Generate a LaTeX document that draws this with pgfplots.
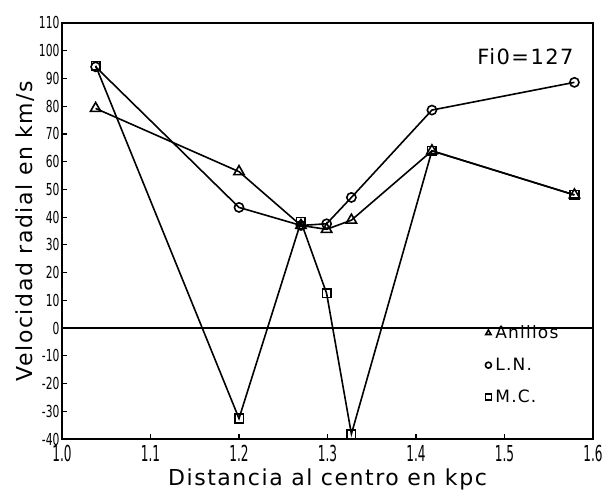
\documentclass[border=0pt]{standalone}
\usepackage{pgfplots}
\pgfplotsset{compat=1.18}
\usepackage{fontspec}
\setmainfont{DejaVu Sans}
\newfontfamily\ytickfont{DejaVu Sans}[FakeStretch=0.65]
\newfontfamily\xtickfont{DejaVu Sans}[FakeStretch=0.55]
\newfontfamily\labfont{DejaVu Sans}[LetterSpace=7]
\begin{document}
\begin{tikzpicture}[x=1pt,y=1pt]
\useasboundingbox (0,0) rectangle (605,492);
\begin{axis}[
  at={(62pt,53pt)}, anchor=south west,
  scale only axis, width=531pt, height=416pt,
  xmin=1.0, xmax=1.6, ymin=-40, ymax=110,
  xtick={1.0,1.1,...,1.6},
  xticklabels={1.0,1.1,1.2,1.3,1.4,1.5,1.6},
  ytick={-40,-30,...,110},
  tick align=inside, xtick pos=bottom, ytick pos=left,
  major tick length=5pt,
  axis line style={line width=1.4pt},
  tick style={line width=1.2pt, black},
  xticklabel style={font=\xtickfont\fontsize{22}{22}\selectfont, yshift=-3pt},
  yticklabel style={font=\ytickfont\fontsize{16.5}{16.5}\selectfont, xshift=1pt},
  /pgf/number format/assume math mode=true,
  xlabel={Distancia al centro en kpc},
  ylabel={Velocidad radial en km/s},
  xlabel style={font=\labfont\fontsize{22}{22}\selectfont, yshift=0pt},
  ylabel style={font=\labfont\fontsize{22}{22}\selectfont, yshift=-2pt},
  legend image code/.code={\draw[#1,line width=1.1pt] plot[only marks, mark size=3pt] coordinates {(0.1cm,0cm)};},
  legend style={at={(0.797,0.275)}, anchor=north west, draw=none, fill=none,
    font=\labfont\fontsize{17}{17}\selectfont, row sep=16pt, inner sep=0pt,
    nodes={inner sep=1pt}},
  legend cell align=left,
]
\addplot[black, line width=1.6pt, forget plot] coordinates {(1.0,0) (1.6,0)};
\addplot[black, line width=1.6pt, mark=triangle, mark size=6pt, mark options={solid, line width=1.6pt}]
  coordinates {(1.038,79.2) (1.2,56.4) (1.27,37.0) (1.299,35.6) (1.327,38.9) (1.418,63.9) (1.579,48.0)};
\addlegendentry{\hspace{3pt}Anillos}
\addplot[black, line width=1.6pt, mark=o, mark size=4.6pt, mark options={solid, line width=1.6pt}]
  coordinates {(1.038,94.2) (1.2,43.5) (1.27,37.0) (1.299,37.6) (1.327,47.1) (1.418,78.6) (1.579,88.6)};
\addlegendentry{\hspace{3pt}L.N.}
\addplot[black, line width=1.6pt, mark=square, mark size=4.3pt, mark options={solid, line width=1.6pt}]
  coordinates {(1.038,94.6) (1.2,-32.6) (1.27,38.3) (1.299,12.5) (1.327,-38.2) (1.418,63.9) (1.579,48.0)};
\addlegendentry{\hspace{3pt}M.C.}
\node[anchor=base east, font=\labfont\fontsize{21}{21}\selectfont] at (rel axis cs:0.97,0.9) {Fi0=127};
\end{axis}
\end{tikzpicture}
\end{document}
